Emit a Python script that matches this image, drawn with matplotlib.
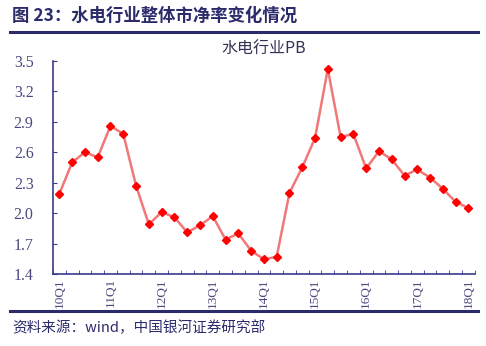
import matplotlib.pyplot as plt
from matplotlib.lines import Line2D

plt.rcParams['font.family'] = ['Noto Sans CJK SC', 'DejaVu Sans']

quarters = [f"{y}Q{q}" for y in range(10, 18) for q in range(1, 5)] + ["18Q1"]
pb = [2.19, 2.50, 2.60, 2.55, 2.86, 2.78, 2.27, 1.89, 2.01, 1.96, 1.81,
      1.88, 1.97, 1.74, 1.80, 1.63, 1.545, 1.57, 2.20, 2.45, 2.74, 3.42,
      2.75, 2.78, 2.44, 2.61, 2.53, 2.37, 2.43, 2.35, 2.24, 2.11, 2.05]
yticks = [1.4, 1.7, 2.0, 2.3, 2.6, 2.9, 3.2, 3.5]

navy = '#2b2b6b'
axis_col = '#3a3a8a'

fig = plt.figure(figsize=(4.86, 3.46), dpi=100)
ax = fig.add_axes([0.109, 0.208, 0.868, 0.616])

x = list(range(len(pb)))
ax.plot(x, pb, color='#f07878', lw=1.8, zorder=2)
ax.plot(x, pb, ls='none', marker='D', ms=4.5, color='#ff0000', zorder=3)

ax.set_xlim(-0.5, len(pb) - 0.5)
ax.set_ylim(1.4, 3.5)
ax.set_yticks(yticks)
ax.set_yticklabels([f"{v:.1f}" for v in yticks], family='Liberation Serif',
                   fontsize=11.5, color='#4a4a80')
ax.tick_params(axis='y', length=3, direction='in', color=axis_col, pad=14)

# category axis: ticks between categories, labels each Q1
ax.set_xticks([i - 0.5 for i in range(len(pb) + 1)], minor=True)
ax.set_xticks(x[::4])
ax.set_xticklabels(quarters[::4], rotation=90, family='Liberation Serif',
                   fontsize=9.5, color='#4a4a80')
ax.tick_params(axis='x', which='major', length=0, pad=3)
ax.tick_params(axis='x', which='minor', length=3, direction='in', color=axis_col)

for s in ['top', 'right']:
    ax.spines[s].set_visible(False)
for s in ['left', 'bottom']:
    ax.spines[s].set_color(axis_col)
    ax.spines[s].set_linewidth(1.2)

ax.set_title('水电行业PB', fontsize=11.5, color='#333355', pad=5)

fig.text(0.025, 0.953, '图 23：水电行业整体市净率变化情况', fontsize=12.5,
         fontweight='bold', color=navy, va='center')
fig.add_artist(Line2D([0.02, 0.984], [0.907, 0.907], color=navy, lw=2.2,
                      transform=fig.transFigure))
fig.add_artist(Line2D([0.02, 0.984], [0.101, 0.101], color=navy, lw=2.2,
                      transform=fig.transFigure))
fig.text(0.025, 0.052, '资料来源：wind，中国银河证券研究部', fontsize=10.5,
         style='italic', color=navy, va='center')

fig.savefig('out.png', dpi=100)
